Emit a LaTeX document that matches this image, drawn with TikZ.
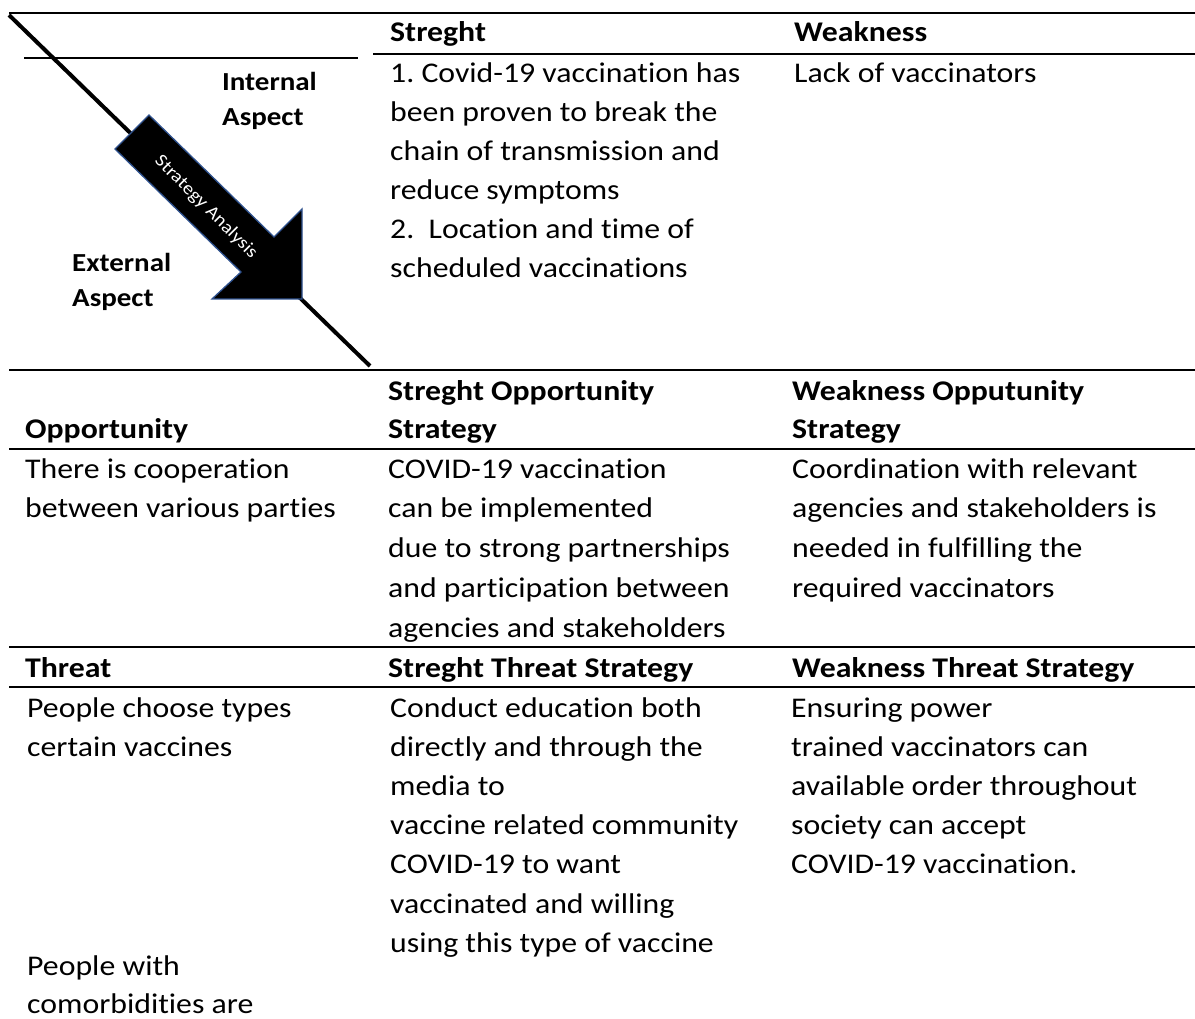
\documentclass[tikz,border=0pt]{standalone}
\usepackage{fontspec}
\setmainfont{Carlito}[FakeStretch=1.115, Ligatures={NoCommon}]
\definecolor{arrowedge}{HTML}{2F528F}
\frenchspacing
\tikzset{
  txt/.style={anchor=base west, inner sep=0pt, font=\fontsize{28.5}{39}\selectfont},
  hdr/.style={txt, font=\fontsize{28.5}{39}\selectfont\bfseries},
  aspect/.style={anchor=base west, inner sep=0pt, font=\fontsize{26}{35}\selectfont\bfseries},
  rule/.style={line width=2pt},
}
\begin{document}
\begin{tikzpicture}[x=1pt,y=-1pt]
\useasboundingbox (0,0) rectangle (1195,1019);
% rules
\coordinate (r0a) at (9,13);   \coordinate (r0b) at (1195,13);
\coordinate (r1a) at (24,58);  \coordinate (r1b) at (358,58);
\coordinate (r2a) at (373,54); \coordinate (r2b) at (1195,54);
\coordinate (r3a) at (9,370);  \coordinate (r3b) at (1195,370);
\coordinate (r4a) at (9,449);  \coordinate (r4b) at (1195,449);
\coordinate (r5a) at (9,647);  \coordinate (r5b) at (1195,647);
\coordinate (r6a) at (9,687);  \coordinate (r6b) at (1195,687);
\foreach \r in {0,...,6} \draw[rule] (r\r a) -- (r\r b);
% diagonal
\coordinate (d0) at (9,15); \coordinate (d1) at (370,366);
\draw[line width=4pt] (d0) -- (d1);
% block arrow
\filldraw[fill=black, draw=arrowedge, line width=1.3pt]
  (115,149) -- (149,115) -- (274,237) -- (302,209) -- (302,299) -- (212,299) -- (241,272) -- cycle;
\node[rotate=-45, text=white, inner sep=0pt, font=\fontsize{18}{20}\selectfont] (sa) at (206,207) {Strategy Analysis};
% aspects
\node[aspect] (ia1) at (222,91) {Internal};
\node[aspect] (ia2) at (222,126) {Aspect};
\node[aspect] (ea1) at (72,272) {External};
\node[aspect] (ea2) at (72,307) {Aspect};
% header row
\node[hdr] (hs) at (390,42) {Streght};
\node[hdr] (hw) at (794,42) {Weakness};
\foreach \t [count=\i] in {1. Covid-19 vaccination has, been proven to break the, chain of transmission and, reduce symptoms, 2.\ \ Location and time of, scheduled vaccinations}
  \node[txt] (sc\i) at (390,{83+39*(\i-1)}) {\t};
\node[txt] (wc1) at (794,83) {Lack of vaccinators};
% opportunity header
\node[hdr] (ho) at (25,438) {Opportunity};
\node[hdr] (hso1) at (388,400) {Streght Opportunity};
\node[hdr] (hso2) at (388,438) {Strategy};
\node[hdr] (hwo1) at (792,400) {Weakness Opputunity};
\node[hdr] (hwo2) at (792,438) {Strategy};
% opportunity content
\foreach \t [count=\i] in {There is cooperation, between various parties}
  \node[txt] (oc\i) at (25,{478+39.75*(\i-1)}) {\t};
\foreach \t [count=\i] in {COVID-19 vaccination, can be implemented, due to strong partnerships, and participation between, agencies and stakeholders}
  \node[txt] (soc\i) at (388,{478+39.75*(\i-1)}) {\t};
\foreach \t [count=\i] in {Coordination with relevant, agencies and stakeholders is, needed in fulfilling the, required vaccinators}
  \node[txt] (woc\i) at (792,{478+39.75*(\i-1)}) {\t};
% threat header
\node[hdr] (ht) at (25,677) {Threat};
\node[hdr] (hst) at (388,677) {Streght Threat Strategy};
\node[hdr] (hwt) at (792,677) {Weakness Threat Strategy};
% threat content
\foreach \t [count=\i] in {People choose types, certain vaccines}
  \node[txt] (tc\i) at (27,{717+39.2*(\i-1)}) {\t};
\node[txt] (tc3) at (27,975) {People with};
\node[txt] (tc4) at (27,1013) {comorbidities are};
\foreach \t [count=\i] in {Conduct education both, directly and through the, media to, vaccine related community, COVID-19 to want, vaccinated and willing, using this type of vaccine}
  \node[txt] (stc\i) at (390,{717+39.2*(\i-1)}) {\t};
\foreach \t [count=\i] in {Ensuring power, trained vaccinators can, available order throughout, society can accept, COVID-19 vaccination.}
  \node[txt] (wtc\i) at (791,{717+39.2*(\i-1)}) {\t};
\end{tikzpicture}
\end{document}
